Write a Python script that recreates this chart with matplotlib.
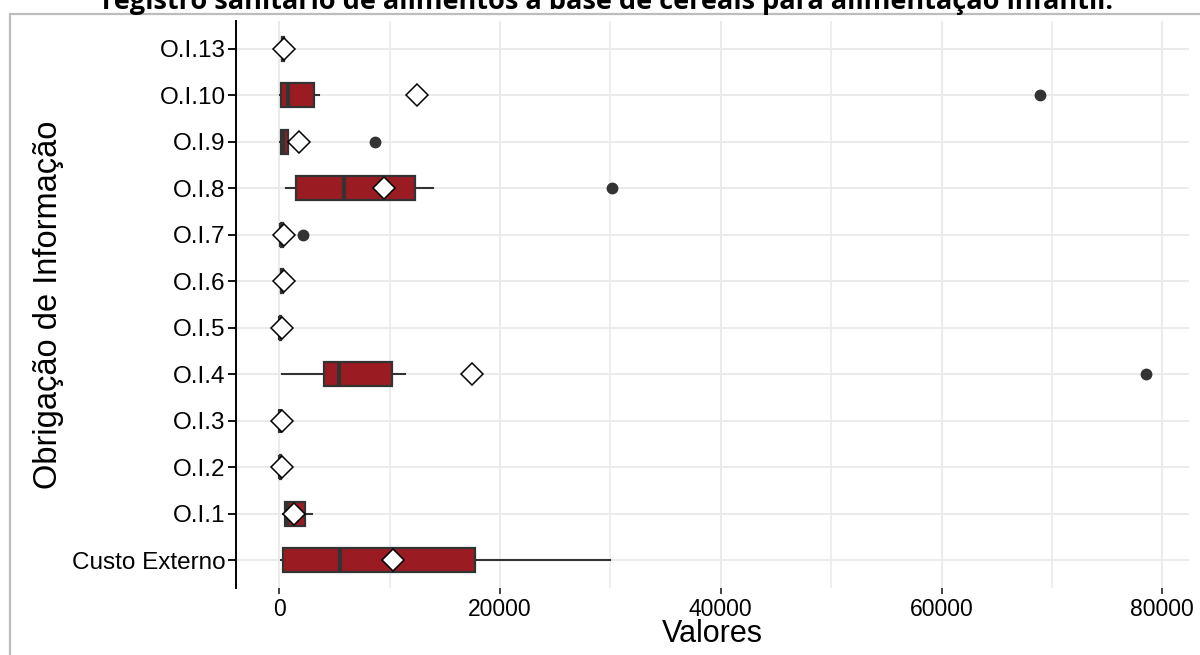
import matplotlib
matplotlib.use('Agg')
import matplotlib.pyplot as plt
import matplotlib.ticker as mticker
from matplotlib.patches import Rectangle

plt.rcParams.update({
    'font.family': ['Liberation Sans', 'DejaVu Sans'],
})

# bottom -> top
categories = ['Custo Externo', 'O.I.1', 'O.I.2', 'O.I.3', 'O.I.4', 'O.I.5',
              'O.I.6', 'O.I.7', 'O.I.8', 'O.I.9', 'O.I.10', 'O.I.13']
q1 = [360, 540, 60, 40, 4060, 70, 150, 120, 1530, 150, 180, 250]
medians = [5500, 700, 80, 60, 5420, 100, 200, 180, 5870, 300, 810, 350]
q3 = [17700, 2350, 120, 100, 10200, 150, 300, 300, 12280, 800, 3160, 450]
whis_lo = [180, 360, 20, 0, 200, 50, 100, 80, 630, 100, 100, 200]
whis_hi = [30000, 2980, 150, 150, 11400, 200, 400, 350, 13900, 1000, 3610, 500]
means = [10300, 1350, 200, 200, 17500, 270, 400, 450, 9480, 1800, 12460, 450]
outliers = [[], [], [], [], [78500], [], [], [2170], [30160], [8670], [68900], []]

title = 'registro sanitário de alimentos à base de cereais para alimentação infantil.'

BOX_RED = '#9b1b22'
DARK = '#333333'
GRID = '#ebebeb'

W, H = 1200, 655
fig = plt.figure(figsize=(W / 100, H / 100), dpi=100)
ax = fig.add_axes([236 / W, 1 - 588 / H, (1189 - 236) / W, (588 - 21) / H])

stats = []
for i, c in enumerate(categories):
    stats.append(dict(label=c, q1=q1[i], med=medians[i], q3=q3[i],
                      whislo=whis_lo[i], whishi=whis_hi[i],
                      mean=means[i], fliers=outliers[i]))

pos = list(range(1, len(categories) + 1))
ax.bxp(stats, positions=pos, widths=0.52, orientation='horizontal',
       showmeans=True, showcaps=False, patch_artist=True,
       boxprops=dict(facecolor=BOX_RED, edgecolor=DARK, linewidth=1.6),
       medianprops=dict(color=DARK, linewidth=3, solid_capstyle='butt'),
       whiskerprops=dict(color=DARK, linewidth=1.5),
       flierprops=dict(marker='o', markerfacecolor=DARK, markeredgecolor=DARK,
                       markersize=7.5),
       meanprops=dict(marker='D', markerfacecolor='white', markeredgecolor='black',
                      markeredgewidth=1.1, markersize=11.5),
       zorder=3)

# ggplot style expansion
lo, hi = 0, 78500
pad = (hi - lo) * 0.05
ax.set_xlim(lo - pad, hi + pad)
ax.set_ylim(0.4, len(categories) + 0.6)

ax.xaxis.set_major_locator(mticker.MultipleLocator(20000))
ax.xaxis.set_minor_locator(mticker.MultipleLocator(10000))
ax.xaxis.set_major_formatter(mticker.FormatStrFormatter('%d'))
ax.grid(True, which='major', color=GRID, linewidth=1.4, zorder=0)
ax.grid(True, which='minor', axis='x', color=GRID, linewidth=1.2, zorder=0)
ax.set_axisbelow(True)

ax.set_yticks(pos)
ax.set_yticklabels(categories)

for s in ['top', 'right', 'bottom']:
    ax.spines[s].set_visible(False)
ax.spines['left'].set_color('black')
ax.spines['left'].set_linewidth(1.4)

ax.tick_params(axis='y', length=6, width=1.3, color='black', labelsize=17.5,
               labelcolor='black', pad=1.5)
ax.tick_params(axis='x', which='major', length=4, width=1.3, color=DARK,
               labelsize=16.5, labelcolor='black', pad=3)
ax.tick_params(axis='x', which='minor', length=0)

ax.set_xlabel('Valores', fontsize=22, labelpad=-1)
ax.set_ylabel('Obrigação de Informação', fontsize=23.5, labelpad=6)

# screenshot frame + clipped title
fig.patches.append(Rectangle((10 / W, -0.1), 1.2, 1 - 14 / H + 0.1,
                             transform=fig.transFigure, fill=False,
                             edgecolor='#bdbdbd', linewidth=1.6))
fig.text(608 / W, 1 - 9 / H, title, ha='center', va='baseline',
         fontsize=19.5, fontweight='bold', family='Open Sans', color='black')

fig.savefig('out.png', dpi=100)
